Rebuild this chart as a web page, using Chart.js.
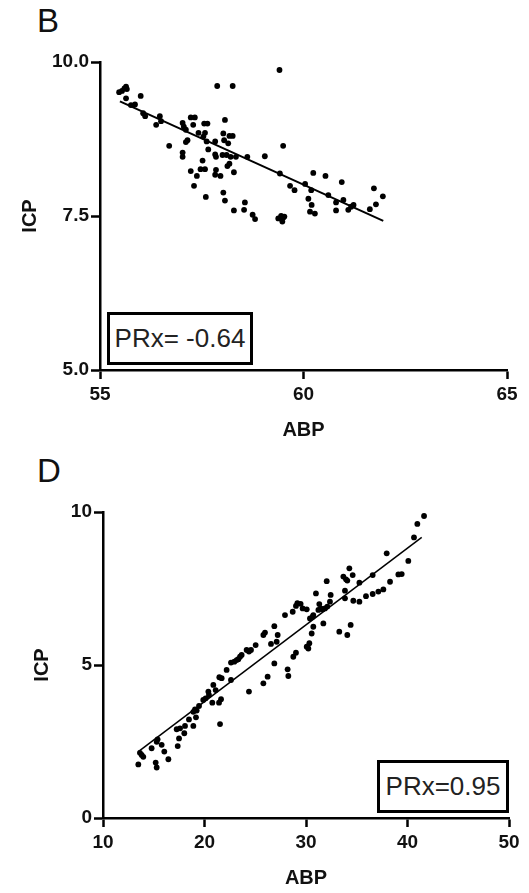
<!DOCTYPE html>
<html>
<head>
<title>ICP vs ABP</title>
<script src="https://cdn.jsdelivr.net/npm/chart.js"></script>
<style>
  body { margin: 0; background: #fff; font-family: Arial, "Liberation Sans", sans-serif; }
  #wrap { position: relative; width: 529px; height: 893px; }
  canvas { position: absolute; left: 0; }
  .panel { position: absolute; left: 37px; font-size: 33px; line-height: 1; color: #111; }
  .prx { position: absolute; box-sizing: border-box; border: 3px solid #000; background: #fff;
         font-size: 26px; color: #222; display: flex; align-items: center; justify-content: center; }
</style>
</head>
<body>
<div id="wrap">
  <div class="panel" style="top:4px">B</div>
  <canvas id="chartB" width="529" height="445" style="top:0"></canvas>
  <div class="prx" style="left:107px; top:312px; width:146px; height:53px">PRx= -0.64</div>

  <div class="panel" style="top:454px">D</div>
  <canvas id="chartD" width="529" height="448" style="top:445px"></canvas>
  <div class="prx" style="left:377px; top:760px; width:132px; height:53px">PRx=0.95</div>
</div>

<script>
// panel B: ICP vs ABP, negative relation
const bABP = [55.47, 55.54, 55.60, 55.64, 55.66, 55.64, 56.00, 55.76, 55.86, 56.06,
  56.11, 56.38, 56.47, 56.50, 56.70, 57.03, 57.06, 57.11, 57.15, 57.11,
  57.03, 57.03, 57.23, 57.33, 57.29, 57.42, 57.56, 57.64, 57.58, 57.54,
  57.62, 57.66, 57.23, 57.38, 57.47, 57.58, 57.52, 57.31, 57.60, 57.83,
  57.83, 57.85, 57.85, 57.83, 57.96, 57.88, 58.26, 58.07, 58.03, 58.05,
  58.18, 58.26, 58.15, 58.01, 58.11, 58.21, 58.18, 58.13, 58.34, 58.29,
  58.62, 58.03, 58.07, 58.29, 58.56, 58.54, 58.75, 58.81, 59.41, 59.50,
  59.05, 59.42, 59.67, 59.78, 60.04, 60.19, 60.24, 60.54, 60.12, 60.20,
  60.16, 60.28, 60.61, 60.94, 60.80, 60.98, 60.80, 61.10, 61.17, 61.23,
  61.63, 61.78, 61.73, 61.95, 59.38, 59.45, 59.50, 59.48, 59.53];
const bICP = [9.51, 9.53, 9.57, 9.60, 9.56, 9.41, 9.45, 9.30, 9.31, 9.17,
  9.12, 8.98, 9.12, 9.04, 8.64, 9.01, 8.95, 8.90, 8.73, 8.70,
  8.53, 8.46, 9.10, 9.10, 8.98, 8.85, 9.00, 9.00, 8.85, 8.79,
  8.71, 8.58, 8.23, 8.15, 8.26, 8.26, 8.40, 7.99, 7.81, 8.71,
  8.50, 8.46, 8.25, 8.17, 8.15, 9.61, 9.61, 9.06, 8.84, 8.73,
  8.80, 8.80, 8.68, 8.49, 8.49, 8.46, 8.35, 8.31, 8.46, 8.21,
  8.46, 7.88, 7.75, 7.59, 7.72, 7.60, 7.52, 7.45, 9.87, 8.64,
  8.47, 8.19, 7.99, 7.92, 8.02, 7.92, 8.20, 8.15, 7.78, 7.68,
  7.57, 7.54, 7.84, 8.05, 7.72, 7.76, 7.59, 7.60, 7.65, 7.68,
  7.61, 7.69, 7.95, 7.82, 7.46, 7.50, 7.47, 7.41, 7.49];
const bFitABP = [55.49, 61.96];
const bFitICP = [9.36, 7.42];
const bXTicks = [55, 60, 65];
const bYTicks = [5, 7.5, 10];
const bYLabels = ['5.0', '7.5', '10.0'];

// panel D: ICP vs ABP, positive relation
const dABP = [13.48, 13.64, 13.81, 13.97, 14.79, 15.19, 15.29, 15.38, 15.29, 15.78,
  16.04, 16.44, 17.36, 17.49, 17.26, 17.59, 18.01, 18.08, 18.47, 18.90,
  18.90, 19.06, 19.23, 19.16, 19.46, 19.88, 20.11, 20.44, 20.38, 20.77,
  20.87, 21.10, 21.43, 21.63, 21.53, 21.46, 21.69, 22.18, 22.61, 22.61,
  22.94, 23.17, 23.33, 23.50, 23.66, 24.15, 24.38, 24.58, 24.38, 25.04,
  25.80, 26.22, 25.80, 25.96, 26.55, 26.88, 27.21, 27.11, 26.88, 28.19,
  28.26, 28.75, 29.01, 30.07, 30.33, 30.23, 30.56, 30.72, 30.39, 30.66,
  30.72, 30.98, 31.22, 31.45, 31.64, 31.87, 32.10, 31.31, 31.71, 32.04,
  32.43, 32.36, 33.28, 34.07, 34.40, 33.68, 33.94, 34.07, 34.27, 34.60,
  33.84, 33.84, 34.66, 35.26, 35.26, 35.91, 36.57, 37.13, 37.62, 36.57,
  37.95, 38.28, 39.10, 39.43, 40.08, 40.64, 40.97, 41.63, 27.93, 28.69,
  29.01, 29.15, 29.47, 29.67, 30.07];
const dICP = [1.75, 2.13, 2.06, 2.00, 2.28, 1.81, 1.65, 2.57, 2.49, 2.39,
  2.17, 1.92, 2.35, 2.60, 2.90, 2.93, 2.77, 3.01, 3.22, 3.01,
  3.47, 3.55, 3.51, 3.29, 3.66, 3.86, 3.91, 4.02, 4.13, 3.77,
  4.35, 4.18, 3.77, 3.88, 3.07, 4.60, 4.57, 4.84, 4.51, 5.08,
  5.11, 5.16, 5.19, 5.27, 5.33, 5.49, 5.44, 5.49, 4.13, 5.65,
  4.40, 4.62, 5.98, 6.06, 5.69, 6.27, 5.98, 5.76, 5.05, 4.86,
  4.64, 5.27, 5.40, 5.60, 5.71, 5.54, 6.03, 6.25, 6.52, 6.58,
  6.63, 7.34, 6.80, 6.85, 6.82, 6.85, 6.91, 6.99, 6.36, 7.74,
  7.29, 7.07, 6.09, 5.98, 6.31, 7.89, 7.80, 7.76, 8.16, 7.94,
  7.43, 7.18, 7.10, 7.07, 7.69, 7.25, 7.32, 7.40, 7.47, 7.94,
  8.65, 7.72, 7.96, 7.97, 8.40, 9.17, 9.61, 9.87, 6.63, 6.74,
  6.93, 7.02, 7.00, 6.85, 6.82];
const dFitABP = [13.45, 41.4];
const dFitICP = [2.16, 9.17];
const dXTicks = [10, 20, 30, 40, 50];
const dYTicks = [0, 5, 10];
const dYLabels = ['0', '5', '10'];

const pairs = (xs, ys) => xs.map((x, i) => ({ x: x, y: ys[i] }));
const axisFont = { family: 'Arial', size: 19, weight: 'bold' };
const titleFont = { family: 'Arial', size: 20, weight: 'bold' };

function makePlot(id, p) {
  new Chart(document.getElementById(id), {
    type: 'scatter',
    data: {
      datasets: [
        {
          data: pairs(p.xs, p.ys),
          pointRadius: 2.9,
          pointBackgroundColor: '#000',
          pointBorderWidth: 0,
          clip: false
        },
        {
          data: pairs(p.fitX, p.fitY),
          showLine: true,
          borderColor: '#000',
          borderWidth: p.fitWidth,
          pointRadius: 0,
          fill: false
        }
      ]
    },
    options: {
      responsive: false,
      animation: false,
      devicePixelRatio: 1,
      layout: { padding: { top: p.top, right: p.right, left: 0, bottom: 0 } },
      plugins: { legend: { display: false }, tooltip: { enabled: false } },
      scales: {
        x: {
          type: 'linear',
          min: p.xTicks[0],
          max: p.xTicks[p.xTicks.length - 1],
          afterBuildTicks: s => { s.ticks = p.xTicks.map(v => ({ value: v })); },
          afterFit: s => { s.height = 75; },
          border: { color: '#000', width: 2.5 },
          grid: { drawOnChartArea: false, tickLength: 9, tickWidth: 2.5, tickColor: '#000' },
          ticks: { color: '#111', font: axisFont, padding: 4, maxRotation: 0, autoSkip: false },
          title: { display: true, text: 'ABP', color: '#111', font: titleFont, padding: { top: 0, bottom: 3 } }
        },
        y: {
          type: 'linear',
          min: p.yTicks[0],
          max: p.yTicks[p.yTicks.length - 1],
          afterBuildTicks: s => { s.ticks = p.yTicks.map(v => ({ value: v })); },
          afterFit: s => { s.width = p.left; },
          border: { color: '#000', width: 2.5 },
          grid: { drawOnChartArea: false, tickLength: 9, tickWidth: 2.5, tickColor: '#000' },
          ticks: {
            color: '#111', font: axisFont, padding: 2, autoSkip: false,
            callback: v => p.yLabels[p.yTicks.indexOf(v)]
          },
          title: { display: true, text: 'ICP', color: '#111', font: titleFont, padding: { top: p.titlePad, bottom: 0 } }
        }
      }
    }
  });
}

makePlot('chartB', {
  xs: bABP, ys: bICP, fitX: bFitABP, fitY: bFitICP,
  xTicks: bXTicks, yTicks: bYTicks, yLabels: bYLabels,
  top: 62, right: 22, left: 100, titlePad: 18, fitWidth: 2
});

makePlot('chartD', {
  xs: dABP, ys: dICP, fitX: dFitABP, fitY: dFitICP,
  xTicks: dXTicks, yTicks: dYTicks, yLabels: dYLabels,
  top: 67, right: 20, left: 103, titlePad: 30, fitWidth: 1.5
});
</script>
</body>
</html>
